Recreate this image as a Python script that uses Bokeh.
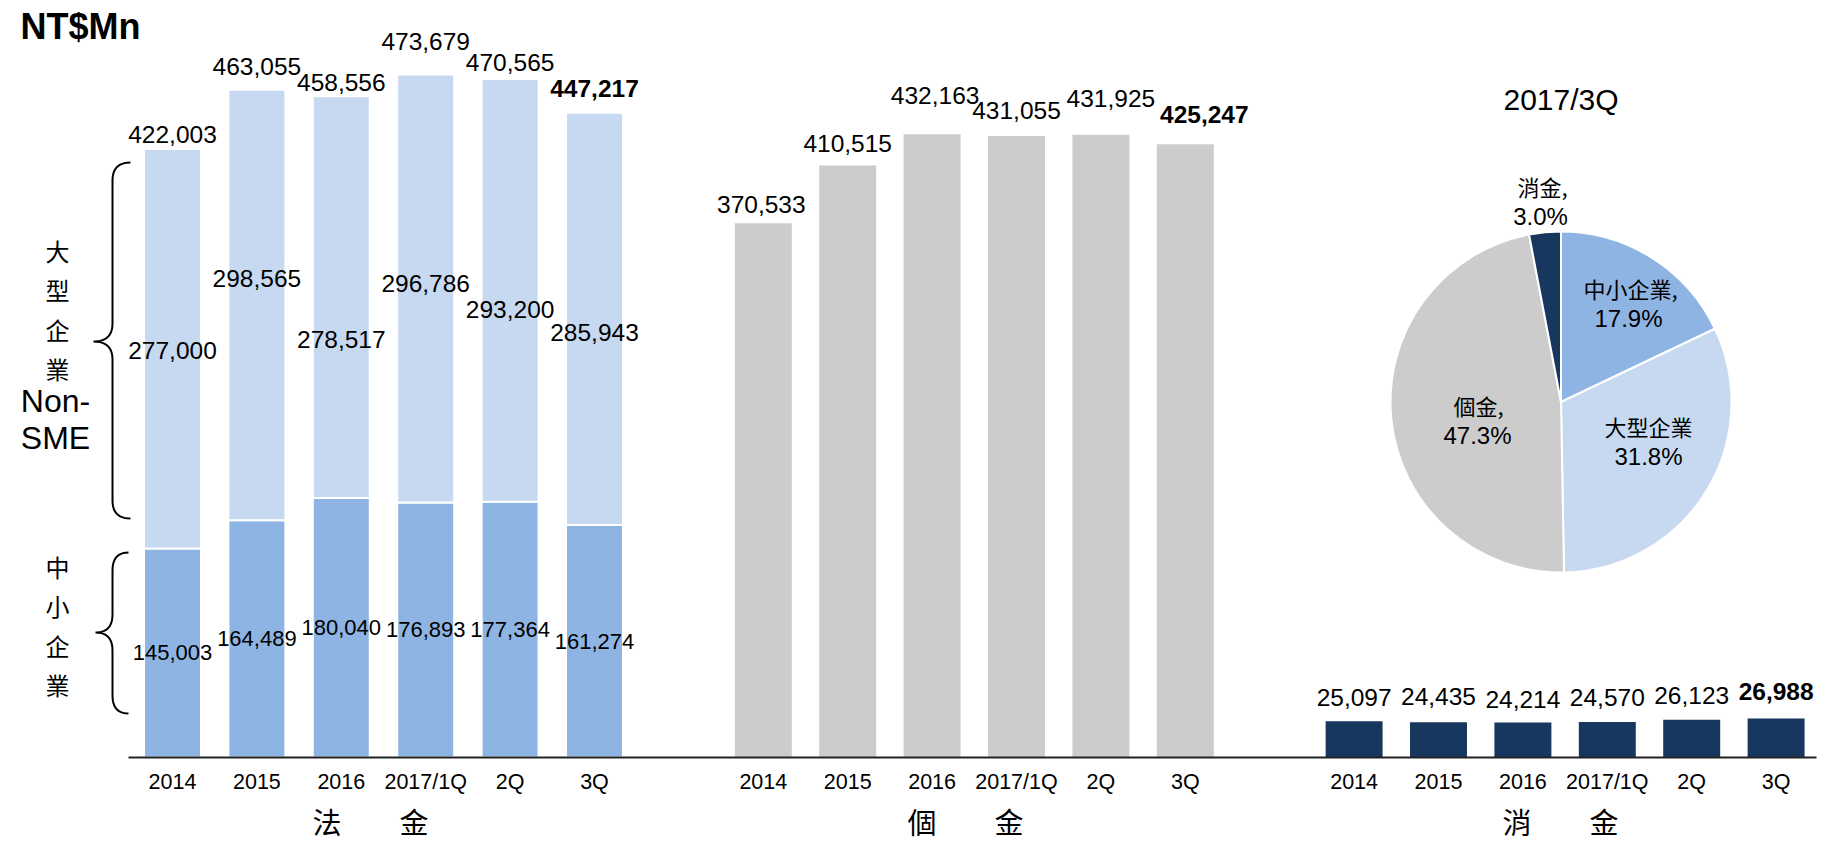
import numpy as np
from bokeh.plotting import figure
from bokeh.models import Range1d, LinearAxis, FixedTicker, ColumnDataSource
from bokeh.core.properties import value
from bokeh.embed import file_html
from bokeh.resources import INLINE

# ---------------- data ----------------
periods = ["2014", "2015", "2016", "2017/1Q", "2Q", "3Q"]
sme_loans = [145003, 164489, 180040, 176893, 177364, 161274]        # 中小企業
nonsme_loans = [277000, 298565, 278517, 296786, 293200, 285943]     # 大型企業
corporate_total = [422003, 463055, 458556, 473679, 470565, 447217]  # 法金
personal_loans = [370533, 410515, 432163, 431055, 431925, 425247]   # 個金
consumer_loans = [25097, 24435, 24214, 24570, 26123, 26988]         # 消金
group_titles = ["法\u3000\u3000金", "個\u3000\u3000金", "消\u3000\u3000金"]
pie_title = "2017/3Q"
pie_names = ["中小企業,", "大型企業", "個金,", "消金,"]
unit_title = "NT$Mn"
brace_upper = ["大\n型\n企\n業", "Non-\nSME"]
brace_lower = "中\n小\n企\n業"

# ---------------- layout / style ----------------
W, H = 1830, 842
X0, DX = 172.0, 84.4          # canvas x of first slot, px per slot
BASE = 757                     # canvas y of zero line
UPP = 693.5                    # data units per pixel
LATIN = "Liberation Sans"
CJK = "Noto Sans CJK TC"
C_SME, C_NON, C_PER, C_CON = "#8EB4E3", "#C6D9F1", "#CCCCCC", "#17375E"
BAR_W = 0.675


def fx(px):
    return (px - X0) / DX


def fy(py):
    return (BASE - py) * UPP


n = len(periods)
slots = [[g * (n + 1) + i for i in range(n)] for g in range(3)]

p = figure(width=W, height=H, output_backend="svg", toolbar_location=None,
           x_range=Range1d(-X0 / DX, (W - X0) / DX),
           y_range=Range1d(-(H - BASE) * UPP, BASE * UPP),
           x_axis_type=None, y_axis_type=None,
           min_border=0, min_border_left=0, min_border_right=0,
           min_border_top=0, min_border_bottom=0)
p.outline_line_color = None
p.background_fill_color = "white"
p.border_fill_color = "white"

# ---------------- bars ----------------
stack_top = [a + b for a, b in zip(sme_loans, nonsme_loans)]
p.vbar(x=slots[0], bottom=0, top=sme_loans, width=BAR_W,
       fill_color=C_SME, line_color="white", line_width=2)
p.vbar(x=slots[0], bottom=sme_loans, top=stack_top, width=BAR_W,
       fill_color=C_NON, line_color="white", line_width=2)
p.vbar(x=slots[1], bottom=0, top=personal_loans, width=BAR_W,
       fill_color=C_PER, line_color=None)
p.vbar(x=slots[2], bottom=0, top=consumer_loans, width=BAR_W,
       fill_color=C_CON, line_color=None)

# ---------------- axis (zero line + period labels) ----------------
all_slots = [s for g in slots for s in g]
xaxis = LinearAxis(fixed_location=0,
                   ticker=FixedTicker(ticks=all_slots),
                   major_label_overrides={s: periods[i % n] for i, s in enumerate(all_slots)},
                   bounds=(-0.52, all_slots[-1] + 0.48),
                   axis_line_width=2, axis_line_color="#222222",
                   major_tick_line_color=None, minor_tick_line_color=None,
                   major_label_standoff=6,
                   major_label_text_font=LATIN,
                   major_label_text_font_size="21.5px",
                   major_label_text_color="black")
p.add_layout(xaxis, "below")

# ---------------- value labels ----------------
def fmt(v):
    return f"{v:,}"


styles = ["normal"] * (n - 1) + ["bold"]

# label placement nudges (pixels, positive = up / right)
tot_dy = [14, 23, 14, 33, 16, 24]
non_dy = [-1.7, 26.5, -42.6, 4.7, -19, -13.4]
per_dy = [19, 22.5, 39, 25.5, 36, 30]
per_dx = [-2, 0, 3, 0, 10, 19]
con_dy = [23.5, 26, 23, 25, 24, 27.5]


def add_labels(xs, ys, texts, size, style_col):
    src = ColumnDataSource(dict(x=xs, y=ys, text=texts, style=style_col))
    p.text(x="x", y="y", text="text", source=src, text_font=value(LATIN),
           text_font_size=size, text_font_style="style", text_color="black",
           text_align="center", text_baseline="middle")


add_labels(slots[0], [t + d * UPP for t, d in zip(corporate_total, tot_dy)],
           [fmt(v) for v in corporate_total], "24.5px", styles)
add_labels(slots[0], [s + v / 2 + d * UPP for s, v, d in zip(sme_loans, nonsme_loans, non_dy)],
           [fmt(v) for v in nonsme_loans], "24.5px", ["normal"] * n)
add_labels(slots[0], [v / 2 for v in sme_loans],
           [fmt(v) for v in sme_loans], "22px", ["normal"] * n)
add_labels([s + d / DX for s, d in zip(slots[1], per_dx)],
           [t + d * UPP for t, d in zip(personal_loans, per_dy)],
           [fmt(v) for v in personal_loans], "24.5px", styles)
add_labels(slots[2], [t + d * UPP for t, d in zip(consumer_loans, con_dy)],
           [fmt(v) for v in consumer_loans], "24.5px", styles)

# ---------------- group titles ----------------
p.text(x=[fx(370), fx(965), fx(1560)], y=[fy(820)] * 3, text=group_titles,
       text_font=value(CJK), text_font_size="29px", text_color="black",
       text_align="center", text_baseline="middle")

# ---------------- unit title ----------------
p.text(x=[fx(20)], y=[fy(26)], text=[unit_title], text_font=value(LATIN),
       text_font_size="36px", text_font_style="bold", text_color="black",
       text_align="left", text_baseline="middle")

# ---------------- braces ----------------
def brace(y_top, y_tip, y_bot, x_end=130, x_line=112, x_tip=93, r=18):
    def qb(p0, c, p2, k=12):
        t = np.linspace(0, 1, k)[:, None]
        p0, c, p2 = map(np.array, (p0, c, p2))
        return (1 - t) ** 2 * p0 + 2 * (1 - t) * t * c + t ** 2 * p2
    pts = np.vstack([
        qb((x_end, y_top), (x_line, y_top), (x_line, y_top + r)),
        qb((x_line, y_tip - r), (x_line, y_tip), (x_tip, y_tip)),
        qb((x_tip, y_tip), (x_line, y_tip), (x_line, y_tip + r)),
        qb((x_line, y_bot - r), (x_line, y_bot), (x_end, y_bot)),
    ])
    return [fx(v) for v in pts[:, 0]], [fy(v) for v in pts[:, 1]]


bx1, by1 = brace(162, 341, 518)
bx2, by2 = brace(552, 632, 713, x_end=128, x_tip=95)
p.multi_line(xs=[bx1, bx2], ys=[by1, by2], line_color="black", line_width=2)

p.text(x=[fx(57)], y=[fy(309)], text=[brace_upper[0]], text_font=value(CJK),
       text_font_size="24px", text_line_height=1.12, text_color="black",
       text_align="center", text_baseline="middle")
p.text(x=[fx(55)], y=[fy(419)], text=[brace_upper[1]], text_font=value(LATIN),
       text_font_size="32px", text_line_height=1.04, text_color="black",
       text_align="center", text_baseline="middle")
p.text(x=[fx(57)], y=[fy(625)], text=[brace_lower], text_font=value(CJK),
       text_font_size="24px", text_line_height=1.12, text_color="black",
       text_align="center", text_baseline="middle")

# ---------------- pie (2017/3Q share) ----------------
pie_vals = [sme_loans[-1], nonsme_loans[-1], personal_loans[-1], consumer_loans[-1]]
tot = float(sum(pie_vals))
cum = np.concatenate([[0.0], np.cumsum(pie_vals) / tot])
starts = np.pi / 2 - 2 * np.pi * cum[:-1]
ends = np.pi / 2 - 2 * np.pi * cum[1:]
pie_src = ColumnDataSource(dict(x=[fx(1560.5)] * 4, y=[fy(401.5)] * 4,
                                start=starts, end=ends,
                                color=[C_SME, C_NON, C_PER, C_CON]))
p.wedge(x="x", y="y", radius=170.5, radius_units="screen",
        start_angle="start", end_angle="end", direction="clock",
        fill_color="color", line_color="white", line_width=2, source=pie_src)

pcts = [f"{v / tot * 100:.1f}%" for v in pie_vals]
name_pos = [(1630, 287), (1648, 425), (1478, 404), (1542, 185)]
pct_pos = [(1628, 318), (1648, 456), (1477, 435), (1540, 216)]
p.text(x=[fx(a) for a, b in name_pos], y=[fy(b) for a, b in name_pos], text=pie_names,
       text_font=value(CJK), text_font_size="22px", text_color="black",
       text_align="center", text_baseline="middle")
p.text(x=[fx(a) for a, b in pct_pos], y=[fy(b) for a, b in pct_pos], text=pcts,
       text_font=value(LATIN), text_font_size="24px", text_color="black",
       text_align="center", text_baseline="middle")
p.text(x=[fx(1560.5)], y=[fy(99)], text=[pie_title], text_font=value(LATIN),
       text_font_size="30px", text_color="black",
       text_align="center", text_baseline="middle")

open("out.html", "w").write(file_html(p, INLINE))
